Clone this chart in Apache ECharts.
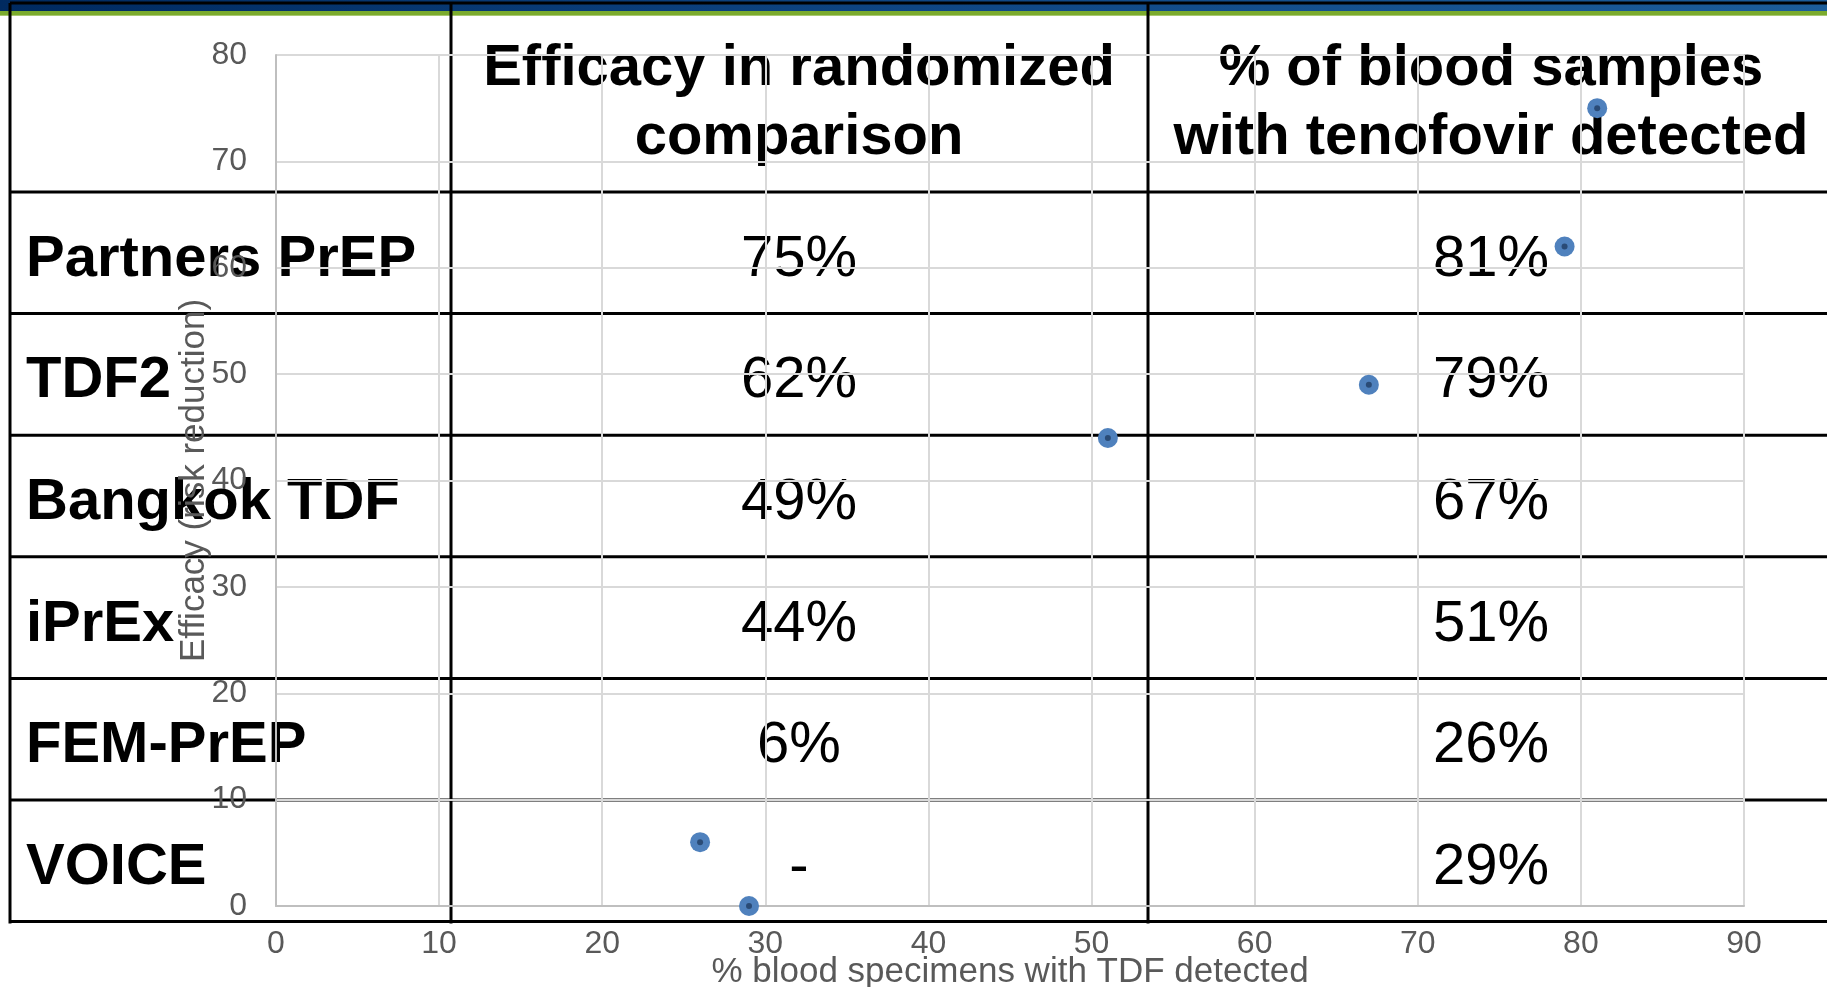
<!DOCTYPE html>
<html>
<head>
<meta charset="utf-8">
<title>PrEP efficacy vs tenofovir detection</title>
<script src="https://cdn.jsdelivr.net/npm/echarts@6/dist/echarts.min.js"></script>
<style>
    html, body { margin: 0; padding: 0; background: #fff; }
    #chart { width: 1827px; height: 987px; }
</style>
</head>
<body>
<div id="chart"></div>
<script>
    // table content
    var headerEfficacy = ["Efficacy in randomized", "comparison"];
    var headerDetected = ["% of blood samples", "with tenofovir detected"];
    var studies = ["Partners PrEP", "TDF2", "Bangkok TDF", "iPrEx", "FEM-PrEP", "VOICE"];
    var efficacyText = ["75%", "62%", "49%", "44%", "6%", "-"];
    var detectedText = ["81%", "79%", "67%", "51%", "26%", "29%"];

    // scatter values
    var tdfDetected = [81, 79, 67, 51, 26, 29];
    var efficacy = [75, 62, 49, 44, 6, 0];

    var points = tdfDetected.map(function (x, i) { return [x, efficacy[i]]; });

    // table layout
    var tableLeft = 10, tableTop = 3, tableBottom = 922;
    var colLines = [451, 1148];
    var colCenters = [799, 1491];
    var headerBottom = 192, rowH = 121.6;
    var fontFamily = "'Liberation Sans', Arial, sans-serif";

    var graphics = [];
    // top band
    graphics.push({
        type: "rect", z: -3, shape: { x: 0, y: 0, width: 1827, height: 11 },
        style: { fill: new echarts.graphic.LinearGradient(0, 0, 1, 0, [
            { offset: 0, color: "#002a60" }, { offset: 0.5, color: "#0f4684" }, { offset: 1, color: "#1c5d9a" }
        ]) }
    });
    graphics.push({ type: "rect", z: -3, shape: { x: 0, y: 11, width: 1827, height: 5 }, style: { fill: "#7bab2d" } });
    graphics.push({ type: "rect", z: -3, shape: { x: 0, y: 15, width: 1827, height: 1 }, style: { fill: "#a9c873" } });

    // table grid lines
    var lineStyle = { stroke: "#000", lineWidth: 3 };
    graphics.push({ type: "line", z: -2, shape: { x1: tableLeft, y1: tableTop, x2: tableLeft, y2: tableBottom + 1.5 }, style: lineStyle });
    graphics.push({ type: "line", z: -2, shape: { x1: tableLeft, y1: tableTop, x2: 1827, y2: tableTop }, style: lineStyle });
    colLines.forEach(function (x) {
        graphics.push({ type: "line", z: -2, shape: { x1: x, y1: tableTop, x2: x, y2: tableBottom + 1.5 }, style: lineStyle });
    });
    for (var r = 0; r <= studies.length; r++) {
        var y = headerBottom + r * rowH;
        graphics.push({ type: "line", z: -2, shape: { x1: tableLeft, y1: y, x2: 1827, y2: y }, style: lineStyle });
    }

    // header text
    [headerEfficacy, headerDetected].forEach(function (lines, c) {
        lines.forEach(function (t, i) {
            graphics.push({
                type: "text", z: -2, x: colCenters[c], y: 69 + i * 69,
                style: { text: t, fill: "#000", font: "bold 58px " + fontFamily, align: "center", verticalAlign: "middle" }
            });
        });
    });

    // rows
    studies.forEach(function (name, i) {
        var cy = headerBottom + (i + 0.5) * rowH + 7;
        graphics.push({
            type: "text", z: -2, x: 26, y: cy,
            style: { text: name, fill: "#000", font: "bold 58px " + fontFamily, align: "left", verticalAlign: "middle" }
        });
        graphics.push({
            type: "text", z: -2, x: colCenters[0], y: cy,
            style: { text: efficacyText[i], fill: "#000", font: "58px " + fontFamily, align: "center", verticalAlign: "middle" }
        });
        graphics.push({
            type: "text", z: -2, x: colCenters[1], y: cy,
            style: { text: detectedText[i], fill: "#000", font: "58px " + fontFamily, align: "center", verticalAlign: "middle" }
        });
    });

    var chart = echarts.init(document.getElementById("chart"));
    chart.setOption({
        animation: false,
        textStyle: { fontFamily: fontFamily },
        graphic: { elements: graphics },
        grid: { left: 276, right: 83, top: 55, bottom: 81, containLabel: false, outerBoundsMode: "none" },
        xAxis: {
            type: "value", min: 0, max: 90, interval: 10,
            name: "% blood specimens with TDF detected",
            nameLocation: "middle", nameGap: 49, nameMoveOverlap: false,
            nameTextStyle: { color: "#595959", fontSize: 35 },
            axisLine: { show: true, onZero: false, lineStyle: { color: "#bfbfbf", width: 2 } },
            axisTick: { show: false },
            axisLabel: { color: "#595959", fontSize: 32, margin: 22 },
            splitLine: { lineStyle: { color: "#d9d9d9", width: 2 } }
        },
        yAxis: {
            type: "value", min: 0, max: 80, interval: 10,
            name: "Efficacy (risk reduction)",
            nameLocation: "middle", nameGap: 64, nameMoveOverlap: false,
            nameTextStyle: { color: "#595959", fontSize: 35 },
            axisLine: { show: true, lineStyle: { color: "#bfbfbf", width: 2 } },
            axisTick: { show: false },
            axisLabel: { color: "#595959", fontSize: 32, margin: 29 },
            splitLine: { lineStyle: { color: "#d9d9d9", width: 2 } }
        },
        series: [
            {
                type: "scatter", data: points, symbolSize: 20,
                itemStyle: { color: "#4f81bd", opacity: 1 }
            },
            {
                type: "scatter", data: points, symbolSize: 6,
                itemStyle: { color: "#2a4b76", opacity: 1 },
                silent: true
            }
        ]
    });
</script>
</body>
</html>
